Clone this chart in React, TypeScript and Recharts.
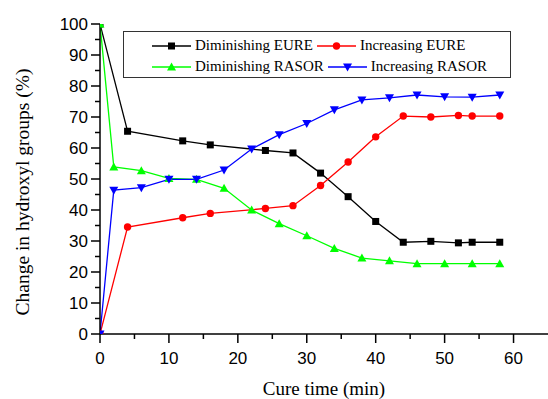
import { LineChart, Line, XAxis, YAxis, Legend, Label } from 'recharts';

// cure times (min)
const eureTimes = [0, 4, 12, 16, 24, 28, 32, 36, 40, 44, 48, 52, 54, 58];
const rasorTimes = [0, 2, 6, 10, 14, 18, 22, 26, 30, 34, 38, 42, 46, 50, 54, 58];

// change in hydroxyl groups (%)
const dimEure = [100, 65.4, 62.3, 61, 59.2, 58.4, 51.9, 44.3, 36.3, 29.6, 29.9, 29.4, 29.6, 29.6];
const incEure = [0, 34.5, 37.5, 38.9, 40.5, 41.4, 47.9, 55.5, 63.6, 70.3, 70, 70.5, 70.3, 70.3];
const dimRasor = [100, 53.9, 52.7, 50.2, 49.9, 47, 40, 35.6, 31.7, 27.6, 24.5, 23.6, 22.7, 22.7, 22.7, 22.7];
const incRasor = [0, 46.4, 47.2, 49.9, 49.9, 52.9, 59.7, 64.3, 67.9, 72.3, 75.5, 76.2, 77.1, 76.5, 76.4, 77.1];

const xTicks = [0, 5, 10, 15, 20, 25, 30, 35, 40, 45, 50, 55, 60];
const yTicks = [0, 5, 10, 15, 20, 25, 30, 35, 40, 45, 50, 55, 60, 65, 70, 75, 80, 85, 90, 95, 100];

type Shape = 'square' | 'circle' | 'up' | 'down';

const toPoints = (xs: number[], ys: number[]) => xs.map((x, i) => ({ x, y: ys[i] }));

const series = [
  { name: 'Diminishing EURE', color: '#000000', shape: 'square' as Shape, data: toPoints(eureTimes, dimEure) },
  { name: 'Increasing EURE', color: '#ff0000', shape: 'circle' as Shape, data: toPoints(eureTimes, incEure) },
  { name: 'Diminishing RASOR', color: '#00ff00', shape: 'up' as Shape, data: toPoints(rasorTimes, dimRasor) },
  { name: 'Increasing RASOR', color: '#0000ff', shape: 'down' as Shape, data: toPoints(rasorTimes, incRasor) },
];

const serif = '"Liberation Serif", "Times New Roman", serif';
const sans = '"Liberation Sans", Arial, sans-serif';

function marker(shape: Shape, cx: number, cy: number, color: string, key?: string | number) {
  if (shape === 'square') return <rect key={key} x={cx - 3.5} y={cy - 3.5} width={7} height={7} fill={color} />;
  if (shape === 'circle') return <circle key={key} cx={cx} cy={cy} r={3.7} fill={color} />;
  if (shape === 'up')
    return <polygon key={key} points={`${cx},${cy - 4.5} ${cx - 4.5},${cy + 3.5} ${cx + 4.5},${cy + 3.5}`} fill={color} />;
  return <polygon key={key} points={`${cx},${cy + 4.5} ${cx - 4.5},${cy - 3.5} ${cx + 4.5},${cy - 3.5}`} fill={color} />;
}

const XTick = (props: any) => {
  const { x, y, payload } = props;
  const major = payload.value % 10 === 0;
  return (
    <g>
      <line x1={x} y1={y} x2={x} y2={y + (major ? 9 : 5)} stroke="#000" strokeWidth={1.5} />
      {major && (
        <text x={x} y={y + 30} textAnchor="middle" fontFamily={sans} fontSize={17} fill="#000">
          {payload.value}
        </text>
      )}
    </g>
  );
};

const YTick = (props: any) => {
  const { x, y, payload } = props;
  const major = payload.value % 10 === 0;
  return (
    <g>
      <line x1={x} y1={y} x2={x - (major ? 9 : 5)} y2={y} stroke="#000" strokeWidth={1.5} />
      {major && (
        <text x={x - 12} y={y + 6} textAnchor="end" fontFamily={sans} fontSize={17} fill="#000">
          {payload.value}
        </text>
      )}
    </g>
  );
};

// axis titles, placed where the reference has them
const XTitle = (props: any) => {
  const vb = props.viewBox;
  return (
    <text x={vb.x + vb.width / 2} y={vb.y + 61} textAnchor="middle" fontFamily={serif} fontSize={19} fill="#000">
      Cure time (min)
    </text>
  );
};

const YTitle = (props: any) => {
  const vb = props.viewBox;
  const x = vb.x + 29;
  const y = vb.y + vb.height / 2 + 13;
  return (
    <text
      x={x}
      y={y}
      transform={`rotate(-90, ${x}, ${y})`}
      textAnchor="middle"
      fontFamily={serif}
      fontSize={19.5}
      fill="#000"
    >
      Change in hydroxyl groups (%)
    </text>
  );
};

const LegendItem = ({ s }: { s: (typeof series)[number] }) => (
  <span style={{ display: 'inline-flex', alignItems: 'center', marginRight: 4 }}>
    <svg width={39} height={14} style={{ display: 'block' }}>
      <line x1={0} y1={7} x2={39} y2={7} stroke={s.color} strokeWidth={1.3} />
      {marker(s.shape, 19.5, 7, s.color)}
    </svg>
    <span style={{ marginLeft: 4 }}>{s.name}</span>
  </span>
);

const LegendBox = () => (
  <div
    style={{
      boxSizing: 'border-box',
      width: 388,
      height: 47,
      border: '1.5px solid #333',
      padding: '3px 0 0 28px',
      fontFamily: serif,
      fontSize: 15,
      lineHeight: '21px',
      color: '#000',
      background: '#fff',
    }}
  >
    <div style={{ display: 'flex' }}>
      <LegendItem s={series[0]} />
      <LegendItem s={series[1]} />
    </div>
    <div style={{ display: 'flex' }}>
      <LegendItem s={series[2]} />
      <LegendItem s={series[3]} />
    </div>
  </div>
);

export default function App() {
  return (
    <div style={{ position: 'absolute', left: 0, top: 0, width: 548, height: 399, background: '#fff' }}>
      <LineChart width={548} height={399} margin={{ top: 24, right: 0, left: 0, bottom: 0 }}>
        <XAxis
          type="number"
          dataKey="x"
          domain={[0, 65]}
          ticks={xTicks}
          interval={0}
          tickSize={0}
          tickMargin={0}
          tickLine={false}
          tick={<XTick />}
          axisLine={{ stroke: '#000', strokeWidth: 1.5 }}
          height={65}
          allowDataOverflow
        >
          <Label content={<XTitle />} />
        </XAxis>
        <YAxis
          type="number"
          dataKey="y"
          domain={[0, 100]}
          ticks={yTicks}
          interval={0}
          tickSize={0}
          tickMargin={0}
          tickLine={false}
          tick={<YTick />}
          axisLine={{ stroke: '#000', strokeWidth: 1.5 }}
          width={100}
          allowDataOverflow
        >
          <Label content={<YTitle />} />
        </YAxis>
        <Legend
          layout="horizontal"
          align="center"
          verticalAlign="middle"
          wrapperStyle={{ top: 31, left: 123, width: 388 }}
          content={<LegendBox />}
        />
        {series.map((s) => (
          <Line
            key={s.name}
            data={s.data}
            dataKey="y"
            name={s.name}
            type="linear"
            stroke={s.color}
            strokeWidth={1.3}
            isAnimationActive={false}
            dot={(p: any) => marker(s.shape, p.cx, p.cy, s.color, p.index)}
            activeDot={false}
            legendType="none"
          />
        ))}
      </LineChart>
    </div>
  );
}
